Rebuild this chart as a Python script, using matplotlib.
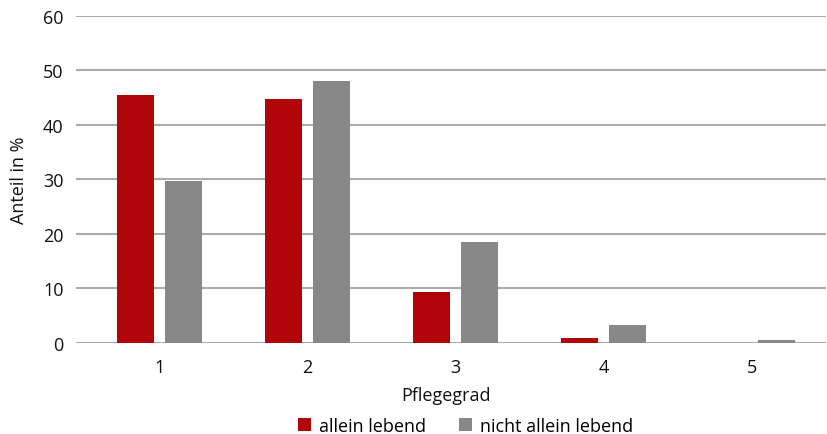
import matplotlib
matplotlib.use("Agg")
import matplotlib.pyplot as plt
import numpy as np
from matplotlib.patches import Patch

categories = ["1", "2", "3", "4", "5"]
allein = [45.5, 44.7, 9.3, 0.9, 0.1]
nicht_allein = [29.7, 48.0, 18.5, 3.3, 0.6]
series_names = ["allein lebend", "nicht allein lebend"]
y_ticks = [0, 10, 20, 30, 40, 50, 60]

RED = "#B0060A"
GRAY = "#888888"
TEXT = "#111111"
FS = 13

plt.rcParams["font.family"] = ["Open Sans", "DejaVu Sans"]

fig = plt.figure(figsize=(8.27, 4.35), dpi=100)
ax = fig.add_axes([0.092, 0.209, 0.907, 0.753])

x = np.arange(1, len(categories) + 1)
w = 0.25
off = 0.162
ax.bar(x - off, allein, width=w, color=RED, zorder=3)
ax.bar(x + off, nicht_allein, width=w, color=GRAY, zorder=3)

ax.set_ylim(0, 60)
ax.set_xlim(0.44, 5.5)
ax.set_yticks(y_ticks)
ax.set_xticks(x)
ax.set_xticklabels(categories)
ax.yaxis.grid(True, color="#ababab", linewidth=1.5, zorder=0)
ax.set_axisbelow(True)
for s in ax.spines.values():
    s.set_visible(False)
ax.tick_params(axis="both", length=0, labelsize=FS, colors=TEXT)
ax.tick_params(axis="x", pad=11)
ax.tick_params(axis="y", pad=9)

ax.set_ylabel("Anteil in %", fontsize=FS, color=TEXT)
ax.yaxis.set_label_coords(-0.076, 0.5)
ax.yaxis.label.set_va("center")
ax.set_xlabel("Pflegegrad", fontsize=FS, color=TEXT)
ax.xaxis.set_label_coords(0.493, -0.158)
ax.xaxis.label.set_va("center")

handles = [Patch(facecolor=RED, edgecolor="none"), Patch(facecolor=GRAY, edgecolor="none")]
fig.legend(handles, series_names, loc="center", bbox_to_anchor=(0.563, 0.018),
           ncol=2, frameon=False, fontsize=FS, handlelength=0.75, handleheight=0.75,
           handletextpad=0.45, columnspacing=1.8, borderpad=0, borderaxespad=0)

fig.savefig("out.png", dpi=100)
